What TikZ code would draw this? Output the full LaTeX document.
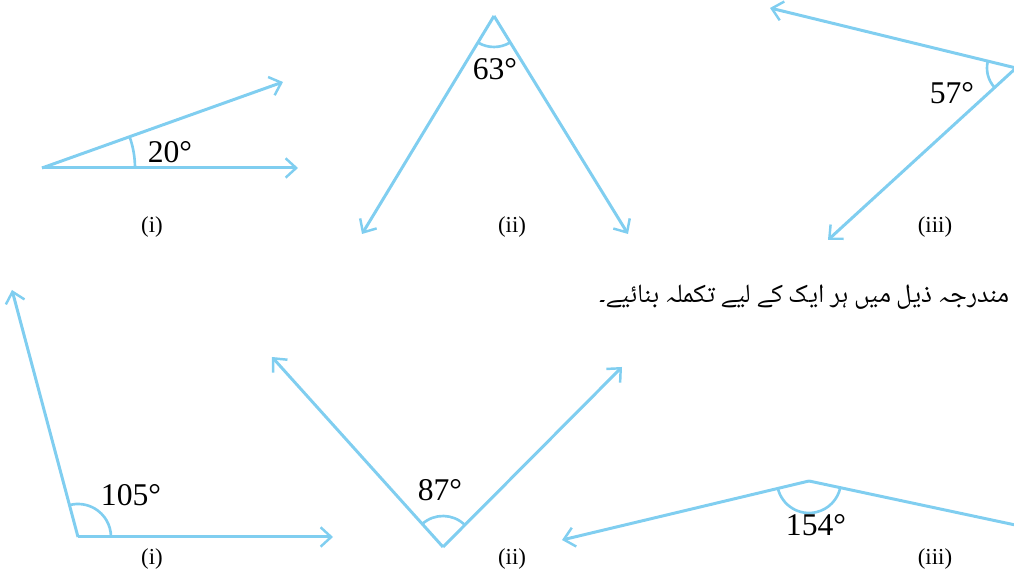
\documentclass[tikz,border=0pt]{standalone}
\usepackage{fontspec}
\setmainfont{Liberation Serif}
\IfFontExistsTF{Noto Naskh Arabic}
    {\newfontfamily\urdufont[Script=Arabic]{Noto Naskh Arabic}}
    {\newfontfamily\urdufont[Script=Arabic]{DejaVu Sans}}
\TeXXeTstate=1
\usetikzlibrary{arrows.meta, angles}
\definecolor{raycolor}{RGB}{128,206,240}

\begin{document}
\begin{tikzpicture}[
    >={Straight Barb[length=6pt, width=11pt, line width=1.4pt]}, % open arrow tips
    line/.style={raycolor, line width=1.7pt}, % plain ray
    ray/.style={line, ->}, % ray with tip
    anglearc/.style={draw=raycolor, line width=1.5pt}, % angle mark
    degree/.style={font=\fontsize{18}{20}\selectfont}, % angle values
    caption/.style={font=\fontsize{13}{15}\selectfont} % figure numbers
]

    % Page frame
    \useasboundingbox (0,0) rectangle (20.28,11.56);
    \clip (0,0) rectangle (20.28,11.56);

    % Top row: points
    \coordinate (O1) at (0.84,8.20);
    \coordinate (H1) at (5.96,8.20);
    \coordinate (U1) at (5.66,9.92);
    \coordinate (O2) at (9.88,11.24);
    \coordinate (L2) at (7.24,6.88);
    \coordinate (R2) at (12.56,6.88);
    \coordinate (O3) at (20.32,10.20);
    \coordinate (U3) at (15.40,11.40);
    \coordinate (D3) at (16.56,6.76);

    % Top row: rays
    \draw[ray] (O1) -- (H1);
    \draw[ray] (O1) -- (U1);
    \draw[ray] (O2) -- (L2);
    \draw[ray] (O2) -- (R2);
    \draw[ray] (O3) -- (U3);
    \draw[ray] (O3) -- (D3);

    % Top row: angle marks
    \pic[anglearc, angle radius=1.86cm] {angle = H1--O1--U1};
    \pic[anglearc, angle radius=0.62cm] {angle = L2--O2--R2};
    \pic[anglearc, angle radius=0.58cm] {angle = U3--O3--D3};
    \node[degree] (a1) at (3.40,8.52) {20°};
    \node[degree] (a2) at (9.90,10.18) {63°};
    \node[degree] (a3) at (19.04,9.70) {57°};

    % Bottom row: points
    \coordinate (O4) at (1.56,0.82);
    \coordinate (H4) at (6.66,0.82);
    \coordinate (U4) at (0.24,5.76);
    \coordinate (O5) at (8.86,0.62);
    \coordinate (L5) at (5.44,4.42);
    \coordinate (R5) at (12.44,4.22);
    \coordinate (O6) at (16.18,1.94);
    \coordinate (L6) at (11.24,0.76);
    \coordinate (R6) at (20.40,1.04);

    % Bottom row: rays
    \draw[ray] (O4) -- (H4);
    \draw[ray] (O4) -- (U4);
    \draw[ray] (O5) -- (L5);
    \draw[ray] (O5) -- (R5);
    \draw[ray] (O6) -- (L6);
    \draw[line] (O6) -- (R6);

    % Bottom row: angle marks
    \pic[anglearc, angle radius=0.66cm] {angle = H4--O4--U4};
    \pic[anglearc, angle radius=0.62cm] {angle = R5--O5--L5};
    \pic[anglearc, angle radius=0.64cm] {angle = L6--O6--R6};
    \node[degree] (a4) at (2.62,1.66) {105°};
    \node[degree] (a5) at (8.80,1.76) {87°};
    \node[degree] (a6) at (16.32,1.06) {154°};

    % Figure numbers
    \foreach \n/\x/\y/\lab in {c1/3.04/7.02/(i), c2/10.24/7.02/(ii), c3/18.70/7.02/(iii),
                               c4/3.04/0.38/(i), c5/10.24/0.38/(ii), c6/18.70/0.38/(iii)} {
        \node[caption] (\n) at (\x,\y) {\lab};
    }

    % Instruction
    \node[anchor=base east, inner sep=0pt, font=\urdufont\fontsize{15}{18}\selectfont] (task) at (20.20,5.50)
        {\beginR مندرجہ ذیل میں ہر ایک کے لیے تکملہ بنائیے۔\endR};

\end{tikzpicture}
\end{document}
